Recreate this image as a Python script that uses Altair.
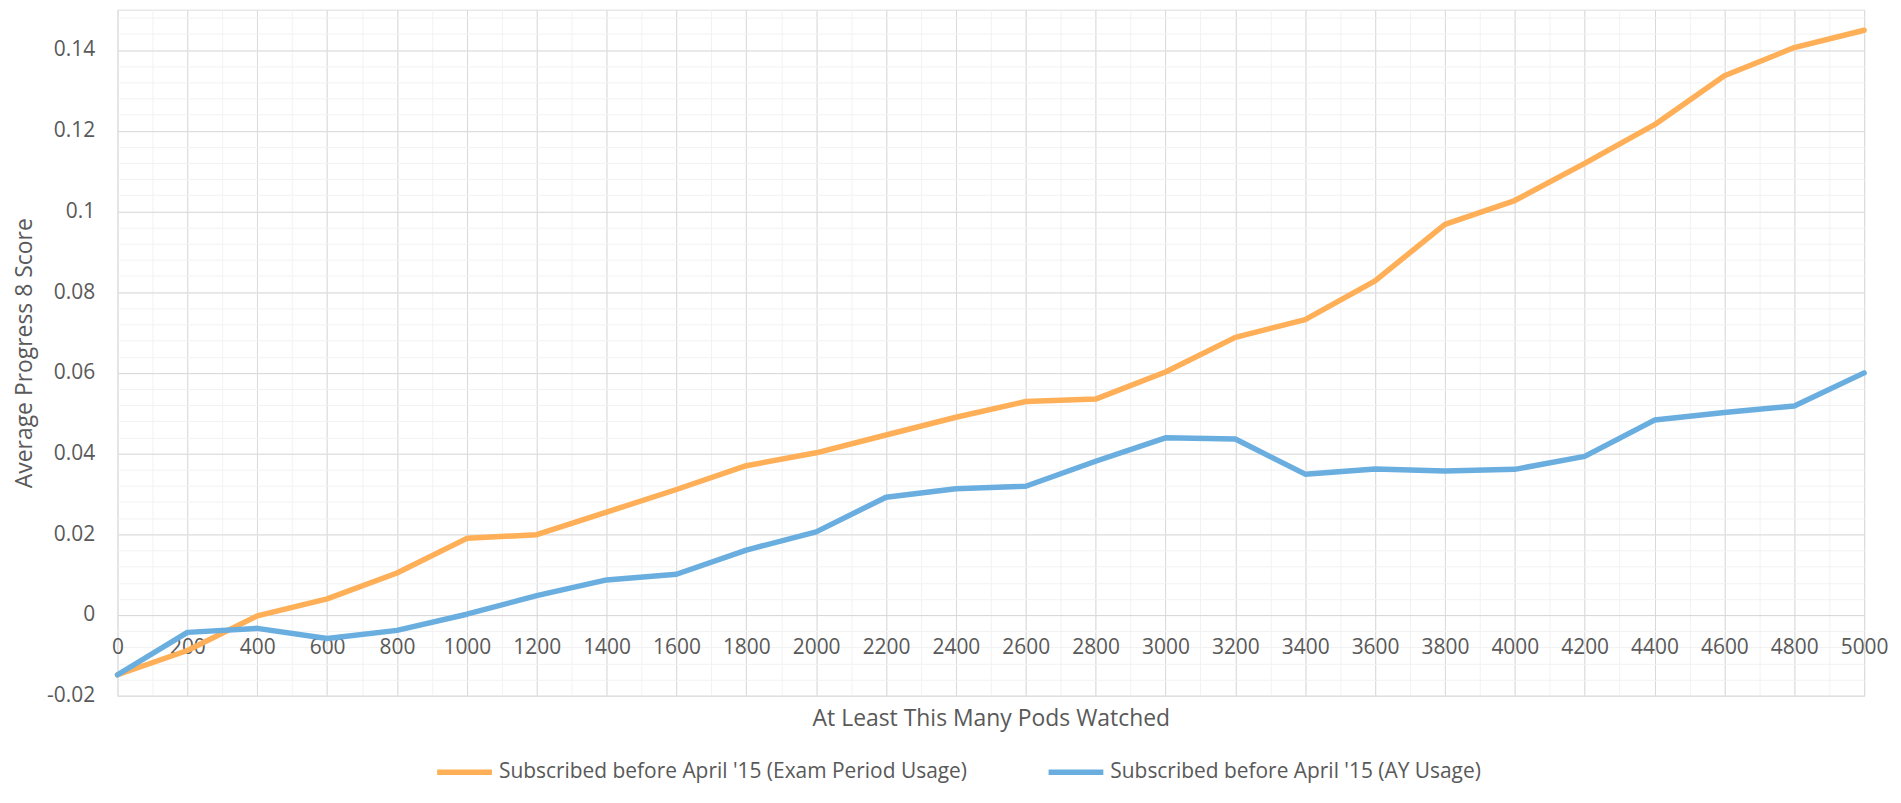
import altair as alt
import pandas as pd

pods = [0, 200, 400, 600, 800, 1000, 1200, 1400, 1600, 1800, 2000, 2200, 2400,
        2600, 2800, 3000, 3200, 3400, 3600, 3800, 4000, 4200, 4400, 4600, 4800, 5000]
exam = [-0.0148, -0.0088, -0.0002, 0.0040, 0.0104, 0.0190, 0.0199, 0.0255, 0.0311,
        0.0370, 0.0402, 0.0446, 0.0490, 0.0529, 0.0535, 0.0602, 0.0688, 0.0732,
        0.0828, 0.0968, 0.1027, 0.1119, 0.1215, 0.1336, 0.1406, 0.1449]
ay = [-0.0148, -0.0043, -0.0033, -0.0058, -0.0038, 0.0002, 0.0048, 0.0087, 0.0101,
      0.0161, 0.0206, 0.0292, 0.0313, 0.0319, 0.0381, 0.0439, 0.0436, 0.0349,
      0.0362, 0.0357, 0.0361, 0.0393, 0.0483, 0.0502, 0.0518, 0.0600]
series_names = ["Subscribed before April '15 (Exam Period Usage)",
                "Subscribed before April '15 (AY Usage)"]
series_colors = ["#FFAF57", "#6AAEE0"]

x_major = list(range(0, 5001, 200))
x_minor = list(range(0, 5001, 100))
y_major = [-0.02, 0, 0.02, 0.04, 0.06, 0.08, 0.1, 0.12, 0.14]
y_minor = [round(-0.02 + 0.004 * i, 3) for i in range(43)]

rows = []
for name, vals in zip(series_names, [exam, ay]):
    for p, v in zip(pods, vals):
        rows.append({"pods": p, "score": v, "series": name})
df = pd.DataFrame(rows)

FONT = "Open Sans"
TXT = "#595959"
W, H = 1754, 689

xs = alt.Scale(domain=[0, 5000], nice=False, zero=False)
ys = alt.Scale(domain=[-0.02, 0.15], nice=False, zero=False)

base = alt.Chart(df)

minor = base.mark_point(opacity=0).encode(
    x=alt.X("pods:Q", scale=xs, axis=alt.Axis(
        orient="bottom", values=x_minor, grid=True, gridColor="#F2F2F2", gridWidth=1,
        labels=False, ticks=False, domain=False, title=None)),
    y=alt.Y("score:Q", scale=ys, axis=alt.Axis(
        orient="left", values=y_minor, grid=True, gridColor="#F2F2F2", gridWidth=1,
        labels=False, ticks=False, domain=False, title=None)),
)

major = base.mark_point(opacity=0).encode(
    x=alt.X("pods:Q", scale=xs, axis=alt.Axis(
        orient="bottom", values=x_major, grid=True, gridColor="#D9D9D9", gridWidth=1,
        labels=False, ticks=False, domain=False, title=None)),
    y=alt.Y("score:Q", scale=ys, axis=alt.Axis(
        orient="left", values=y_major, grid=True, gridColor="#D9D9D9", gridWidth=1,
        ticks=False, tickSize=0, domain=False, labelPadding=23,
        labelExpr="toString(datum.value)",
        labelFont=FONT, labelFontSize=21, labelColor=TXT,
        title="Average Progress 8 Score", titleFont=FONT, titleFontSize=23,
        titleFontWeight="normal", titleColor=TXT, titleX=-93, titleY=H / 2,
        titleAlign="center", titleBaseline="middle", titleAngle=-90)),
)

lines = base.mark_line(strokeWidth=5.5, strokeCap="round", strokeJoin="round").encode(
    x=alt.X("pods:Q", scale=xs, axis=alt.Axis(
        orient="bottom", values=x_major, grid=False, offset=-81,
        domain=True, domainColor="#D9D9D9", domainWidth=1,
        ticks=False, tickSize=0, labelPadding=39, labelBaseline="alphabetic",
        labelFont=FONT, labelFontSize=21, labelColor=TXT, format="d",
        labelFlush=False, labelOverlap=False,
        title="At Least This Many Pods Watched", titleFont=FONT, titleFontSize=23,
        titleFontWeight="normal", titleColor=TXT, titleX=W / 2, titleY=104,
        titleAlign="center", titleBaseline="middle")),
    y=alt.Y("score:Q", scale=ys, axis=None),
    color=alt.Color("series:N", scale=alt.Scale(domain=series_names, range=series_colors),
                    legend=alt.Legend(
                        orient="none", legendX=318, legendY=735, direction="horizontal",
                        title=None, symbolType="stroke", symbolStrokeWidth=5.5,
                        symbolSize=3025, labelOffset=4, columnPadding=70, padding=0,
                        labelFont=FONT, labelFontSize=21, labelColor=TXT,
                        labelLimit=0)),
    order=alt.Order("pods:Q"),
)

chart = alt.layer(minor, major, lines).resolve_axis(
    x="independent", y="independent"
).properties(
    width=W, height=H,
    padding={"left": 110, "top": 0, "right": 29, "bottom": 91},
    autosize=alt.AutoSizeParams(type="none"),
).configure_view(stroke=None).configure(font=FONT)

chart.save("out.html", embed_options={"renderer": "svg", "actions": False})
